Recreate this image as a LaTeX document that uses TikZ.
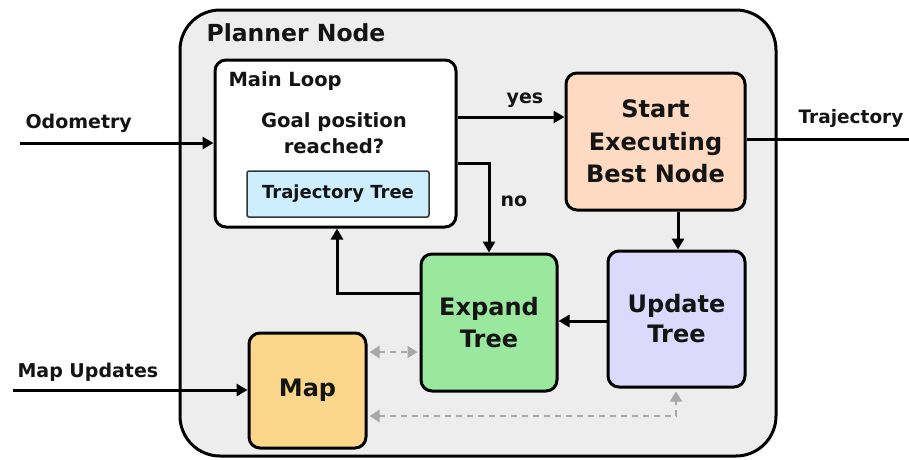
\documentclass[tikz,border=0pt]{standalone}
\usepackage{fontspec}
\setmainfont{DejaVu Sans}
\usetikzlibrary{arrows.meta}
\definecolor{outerfill}{HTML}{EDEDED}
\definecolor{trajfill}{HTML}{CDEEFC}
\definecolor{startfill}{HTML}{FDDAC1}
\definecolor{expandfill}{HTML}{99E89D}
\definecolor{updatefill}{HTML}{DCD9FC}
\definecolor{mapfill}{HTML}{FBD68B}
\definecolor{dashgray}{HTML}{A8A8A8}
\definecolor{inktext}{HTML}{141414}
\begin{document}
\begin{tikzpicture}[x=1pt,y=-1pt,
  boxstyle/.style={draw=black,line width=3pt,rounded corners=11pt,inner sep=0pt},
  bigtext/.style={font=\fontsize{24}{32}\selectfont\bfseries,align=center,text=inktext},
  midtext/.style={font=\fontsize{19}{26}\selectfont\bfseries,align=center,text=inktext},
  conn/.style={line width=3pt,-{Triangle[length=11pt,width=12pt]}},
  plainconn/.style={line width=3pt},
  dashconn/.style={dashgray,line width=2.2pt,dash pattern=on 6pt off 5pt,{Triangle[length=10pt,width=12pt]}-{Triangle[length=10pt,width=12pt]}}
]
\useasboundingbox (0,0) rectangle (909,459);
\fill[white] (0,0) rectangle (909,459);
% outer planner node
\draw[fill=outerfill,line width=3pt,rounded corners=40pt] (180,10) rectangle (776,456);
\node[anchor=west,font=\fontsize{23.5}{28}\selectfont\bfseries,text=inktext] (title) at (203,33) {Planner Node};
% main loop
\node[boxstyle,fill=white,minimum width=241pt,minimum height=167pt] (main) at (335.5,143.5) {};
\node[anchor=west,font=\fontsize{19.5}{24}\selectfont\bfseries,text=inktext] (mainlbl) at (225,81) {Main Loop};
\node[font=\fontsize{19.6}{26}\selectfont\bfseries,align=center,text=inktext] (goal) at (334,133) {Goal position\\reached?};
\node[draw=black!80,line width=1.5pt,fill=trajfill,rounded corners=2pt,minimum width=182pt,minimum height=46pt,font=\fontsize{18}{22}\selectfont\bfseries,text=inktext] (traj) at (338,194) {Trajectory Tree};
% start executing
\node[boxstyle,fill=startfill,minimum width=179pt,minimum height=137pt,bigtext,font=\fontsize{24}{32.5}\selectfont\bfseries] (start) at (655.5,141.5) {Start\\Executing\\Best Node};
% expand tree
\node[boxstyle,fill=expandfill,minimum width=136pt,minimum height=137pt,bigtext] (expand) at (489,322.5) {Expand\\Tree};
% update tree
\node[boxstyle,fill=updatefill,minimum width=137pt,minimum height=136pt,bigtext,font=\fontsize{24}{30}\selectfont\bfseries] (update) at (676.5,319) {Update\\Tree};
% map
\node[boxstyle,fill=mapfill,minimum width=117pt,minimum height=115pt,bigtext] (map) at (307.5,390.5) {Map};
% external coordinates
\coordinate (odo) at (20,143);
\coordinate (trajout) at (909,139);
\coordinate (mapin) at (13,390);
% labels
\node[midtext,anchor=west] (odolbl) at (22,123) {Odometry};
\node[midtext,font=\fontsize{18.5}{24}\selectfont\bfseries] (trajlbl) at (851,118) {Trajectory};
\node[midtext,anchor=west] (maplbl) at (14,372) {Map Updates};
\node[midtext] (yeslbl) at (525,100) {yes};
\node[midtext] (nolbl) at (514,201) {no};
% connectors
\draw[conn] (odo) -- (main.west |- odo);
\draw[plainconn] (start.east |- trajout) -- (trajout);
\draw[conn] (mapin) -- (map.west |- mapin);
\draw[conn] (main.east |- 0,117) -- (start.west |- 0,117);
\draw[conn] (main.east |- 0,163) -| (expand.north);
\draw[conn] (start.south -| 678,0) -- (update.north -| 678,0);
\draw[conn] (update.west |- 0,321) -- (expand.east |- 0,321);
\draw[conn] (expand.west |- 0,293) -| (main.south -| 337,0);
\draw[dashconn,shorten <=2pt,shorten >=2pt] (map.east |- 0,352) -- (expand.west |- 0,352);
\draw[dashconn,shorten <=2pt,shorten >=3pt] (map.east |- 0,416) -| (update.south -| 676,0);
\end{tikzpicture}
\end{document}
